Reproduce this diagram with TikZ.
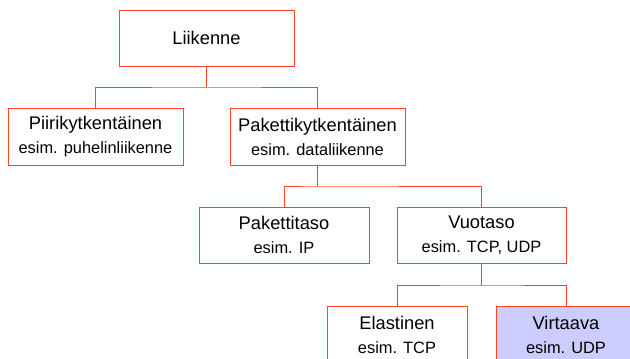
\documentclass[tikz,border=0pt]{standalone}
\usepackage{fontspec}
\setmainfont{Liberation Sans}
\definecolor{reuna}{RGB}{255,68,34}
\definecolor{lila}{RGB}{204,204,255}
\newcommand{\isot}{\fontsize{18.3}{24}\selectfont}
\newcommand{\pienet}{\fontsize{16.4}{24}\selectfont}

\begin{document}
\begin{tikzpicture}[x=1pt,y=-1pt,
  box/.style={draw=reuna, line width=0.9pt, fill=white, align=center, inner sep=0pt, font=\isot},
  linja/.style={draw=reuna, line width=0.9pt}]
\useasboundingbox (0,0) rectangle (630,359);
\clip (0,0) rectangle (630,359);
\node [box, minimum width=175, minimum height=56] (liikenne) at (206.5,38) {Liikenne};
\node [box, minimum width=175, minimum height=57] (piiri) at (95.5,136.5) {Piirikytkentäinen\\ \pienet esim. puhelinliikenne};
\node [box, minimum width=175, minimum height=57] (paketti) at (317.5,136.5) {Pakettikytkentäinen\\ \pienet esim. dataliikenne};
\node [box, minimum width=170, minimum height=56] (pakettitaso) at (284,235) {Pakettitaso\\ \pienet esim. IP};
\node [box, minimum width=169, minimum height=56] (vuotaso) at (481.5,235) {Vuotaso\\ \pienet esim. TCP, UDP};
\node [box, minimum width=140, minimum height=57] (elastinen) at (397,334.5) {Elastinen\\ \pienet esim. TCP};
\node [box, fill=lila, minimum width=140, minimum height=57] (virtaava) at (566,334.5) {Virtaava\\ \pienet esim. UDP};
\coordinate (h1) at (206.5,87);
\coordinate (h2) at (317.5,186);
\coordinate (h3) at (481.5,285);
\draw [linja] (liikenne.south) -- (h1);
\draw [linja] (piiri.north) |- (h1) -| (paketti.north);
\draw [linja] (paketti.south) -- (h2);
\draw [linja] (pakettitaso.north) |- (h2) -| (vuotaso.north);
\draw [linja] (vuotaso.south) -- (h3);
\draw [linja] (elastinen.north) |- (h3) -| (virtaava.north);
\end{tikzpicture}
\end{document}
